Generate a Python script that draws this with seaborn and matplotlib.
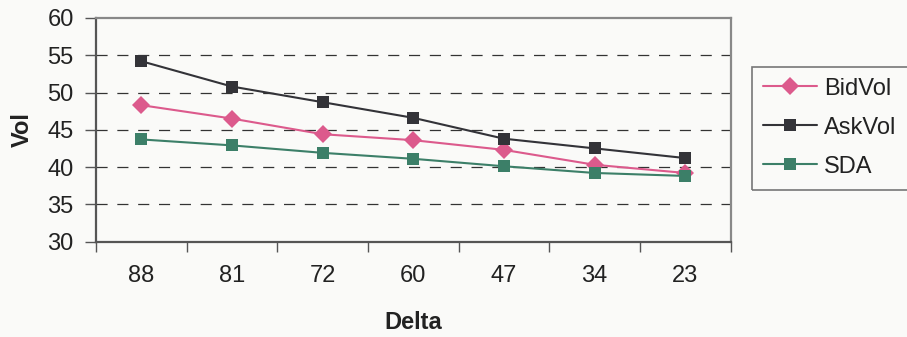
import matplotlib
matplotlib.use("Agg")
import matplotlib.pyplot as plt
from matplotlib.patches import Rectangle
import seaborn as sns
import pandas as pd
import numpy as np

delta = ["88", "81", "72", "60", "47", "34", "23"]
bid_vol = [48.3, 46.5, 44.4, 43.6, 42.3, 40.3, 39.2]
ask_vol = [54.2, 50.8, 48.7, 46.6, 43.8, 42.5, 41.2]
sda = [43.7, 42.9, 41.9, 41.1, 40.1, 39.2, 38.8]

series_names = ["BidVol", "AskVol", "SDA"]
series_vals = [bid_vol, ask_vol, sda]
colors = ["#DC5A8C", "#333338", "#3C7F68"]
markers = ["D", "s", "s"]
msizes = [9, 8, 8]

sns.set_style("white")
plt.rcParams['font.family'] = ['Liberation Sans', 'DejaVu Sans']
plt.rcParams['lines.scale_dashes'] = False

bg = "#FAFAF8"
fig = plt.figure(figsize=(9.07, 3.37), dpi=100, facecolor=bg)
ax = fig.add_axes([96/907, 1-241.5/337, (730.5-96)/907, (241.5-18)/337])
ax.set_facecolor(bg)

rows = []
for name, vals in zip(series_names, series_vals):
    for i, (d, v) in enumerate(zip(delta, vals)):
        rows.append({"pos": i, "Delta": d, "Vol": v, "series": name})
df = pd.DataFrame(rows)

for name, col, mk, ms in zip(series_names, colors, markers, msizes):
    sub = df[df["series"] == name]
    sns.lineplot(data=sub, x="pos", y="Vol", ax=ax, color=col, marker=mk,
                 markersize=ms, markeredgewidth=0, linewidth=1.5, label=name,
                 zorder=3)

ax.set_xlim(-0.5, len(delta) - 0.5)
ax.set_ylim(30, 60)
ax.set_yticks(np.arange(30, 61, 5))
ax.set_xticks(range(len(delta)))
ax.set_xticklabels(delta)
ax.set_xticks(np.arange(-0.5, len(delta), 1.0), minor=True)
ax.tick_params(axis="x", which="major", length=0, pad=17, labelsize=17, colors="#222222")
ax.tick_params(axis="x", which="minor", length=7, width=1, color="#555555", direction="out", bottom=True)
ax.tick_params(axis="y", which="major", length=8, width=1, color="#555555", direction="out",
               left=True, pad=8, labelsize=17, labelcolor="#222222")

for y in [35, 40, 45, 50, 55]:
    ax.axhline(y, color="#333333", linewidth=0.9, linestyle=(0, (8, 7)), zorder=1)

for side in ["left", "bottom"]:
    ax.spines[side].set_color("#555555")
    ax.spines[side].set_linewidth(1.6)
for side in ["top", "right"]:
    ax.spines[side].set_visible(True)
    ax.spines[side].set_color("#888888")
    ax.spines[side].set_linewidth(1.6)

ax.set_xlabel("Delta", fontsize=17, fontweight="bold", color="#222222", labelpad=17)
ax.set_ylabel("Vol", fontsize=17, fontweight="bold", color="#222222", labelpad=10)

leg = ax.legend(loc="upper left", bbox_to_anchor=(752/907, 1-67/337),
                bbox_transform=fig.transFigure, fontsize=17, frameon=False,
                handlelength=2.3, handletextpad=0.3, labelspacing=0.72,
                borderpad=0.45, borderaxespad=0)
for t in leg.get_texts():
    t.set_color("#222222")

fig.patches.append(Rectangle((752/907, 1-190/337), (915-752)/907, (190-67)/337,
                             transform=fig.transFigure, fill=False,
                             edgecolor="#777777", linewidth=1.2))

fig.savefig("out.png", dpi=100, facecolor=bg)
